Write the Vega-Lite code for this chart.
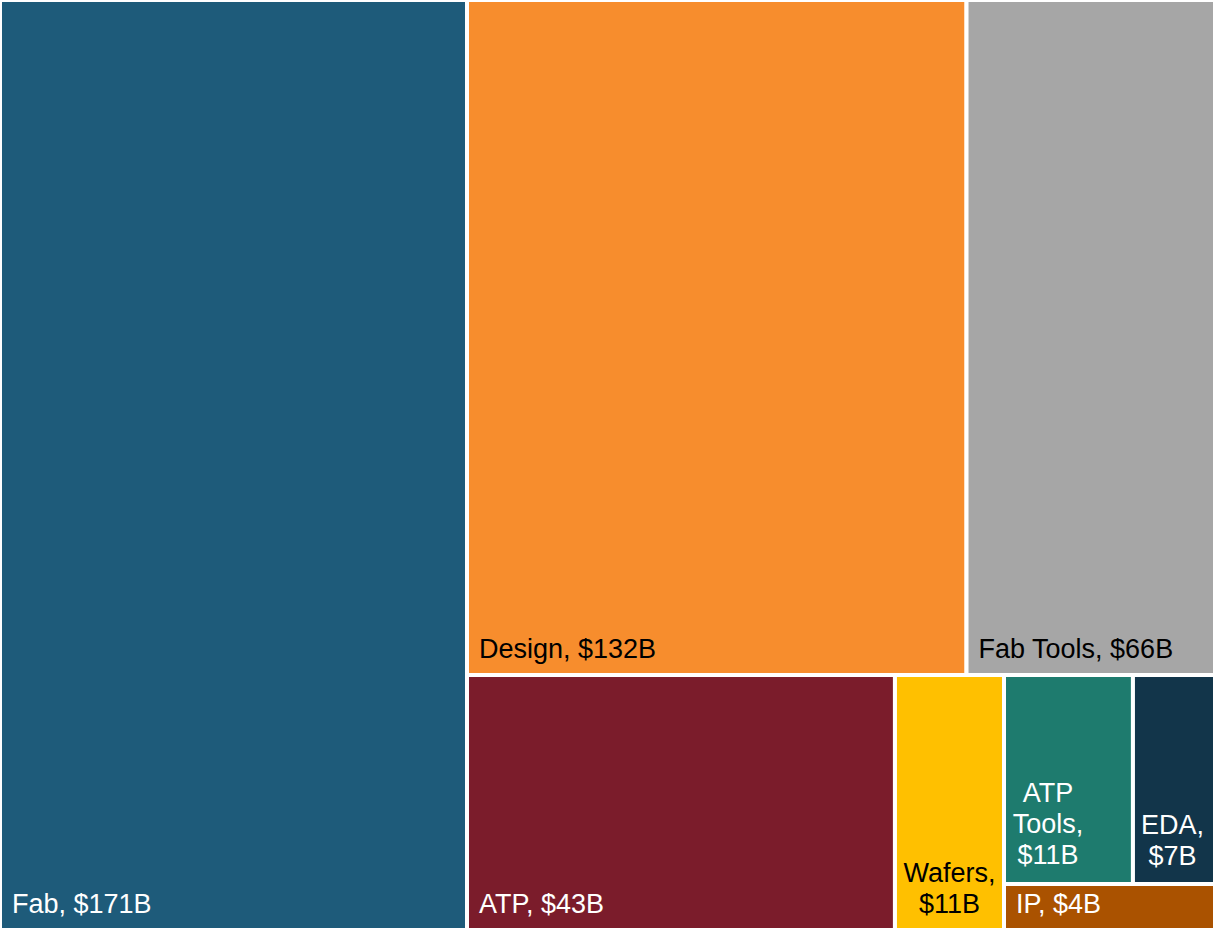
{
  "$schema": "https://vega.github.io/schema/vega-lite/v6.json",
  "width": 1213,
  "height": 928,
  "autosize": {"type": "none"},
  "padding": 0,
  "background": "white",
  "config": {"view": {"stroke": null}},
  "data": {
    "values": [
      {"name": "Fab", "value": 171, "label": "Fab, $171B", "x0": 0, "x1": 38.5, "y0": 0, "y1": 100.25},
      {"name": "Design", "value": 132, "label": "Design, $132B", "x0": 38.5, "x1": 79.68, "y0": 0, "y1": 72.74},
      {"name": "Fab Tools", "value": 66, "label": "Fab Tools, $66B", "x0": 79.68, "x1": 100.25, "y0": 0, "y1": 72.74},
      {"name": "ATP", "value": 43, "label": "ATP, $43B", "x0": 38.5, "x1": 73.78, "y0": 72.74, "y1": 100.25},
      {"name": "Wafers", "value": 11, "label": "Wafers,\n$11B", "x0": 73.78, "x1": 82.77, "y0": 72.74, "y1": 100.25},
      {"name": "ATP Tools", "value": 11, "label": "ATP\nTools,\n$11B", "x0": 82.77, "x1": 93.4, "y0": 72.74, "y1": 95.26},
      {"name": "EDA", "value": 7, "label": "EDA,\n$7B", "x0": 93.4, "x1": 100.25, "y0": 72.74, "y1": 95.26},
      {"name": "IP", "value": 4, "label": "IP, $4B", "x0": 82.77, "x1": 100.25, "y0": 95.26, "y1": 100.25}
    ]
  },
  "layer": [
    {
      "mark": {"type": "rect", "stroke": "white", "strokeWidth": 4, "clip": true},
      "encoding": {
        "x": {"field": "x0", "type": "quantitative", "scale": {"domain": [0, 100], "nice": false, "zero": false}, "axis": null},
        "x2": {"field": "x1"},
        "y": {"field": "y0", "type": "quantitative", "scale": {"domain": [0, 100], "nice": false, "zero": false, "reverse": true}, "axis": null},
        "y2": {"field": "y1"},
        "color": {
          "field": "name", "type": "nominal", "legend": null,
          "scale": {
            "domain": ["Fab", "Design", "Fab Tools", "ATP", "Wafers", "ATP Tools", "EDA", "IP"],
            "range": ["#1E5B7A", "#F78D2D", "#A6A6A6", "#7B1C2B", "#FFC000", "#1E7B6E", "#12354A", "#AA5200"]
          }
        }
      }
    },
    {
      "transform": [{"filter": "indexof(['Fab','Design','Fab Tools','ATP','IP'], datum.name) >= 0"}],
      "mark": {"type": "text", "align": "left", "baseline": "alphabetic", "dx": 12, "dy": -17, "font": "Liberation Sans", "fontSize": 27},
      "encoding": {
        "x": {"field": "x0", "type": "quantitative"},
        "y": {"field": "y1", "type": "quantitative"},
        "text": {"field": "label"},
        "color": {"condition": {"test": "indexof(['Design','Fab Tools'], datum.name) >= 0", "value": "black"}, "value": "white"}
      }
    },
    {
      "transform": [{"filter": "datum.name == 'Wafers'"}, {"calculate": "(datum.x0 + datum.x1) / 2", "as": "xc"}],
      "mark": {"type": "text", "align": "center", "baseline": "alphabetic", "lineBreak": "\n", "lineHeight": 31, "dy": -48, "font": "Liberation Sans", "fontSize": 27, "color": "black"},
      "encoding": {
        "x": {"field": "xc", "type": "quantitative"},
        "y": {"field": "y1", "type": "quantitative"},
        "text": {"field": "label"}
      }
    },
    {
      "transform": [{"filter": "datum.name == 'EDA'"}, {"calculate": "(datum.x0 + datum.x1) / 2", "as": "xc"}],
      "mark": {"type": "text", "align": "center", "baseline": "alphabetic", "lineBreak": "\n", "lineHeight": 31, "dx": -2, "dy": -50, "font": "Liberation Sans", "fontSize": 27, "color": "white"},
      "encoding": {
        "x": {"field": "xc", "type": "quantitative"},
        "y": {"field": "y1", "type": "quantitative"},
        "text": {"field": "label"}
      }
    },
    {
      "transform": [{"filter": "datum.name == 'ATP Tools'"}],
      "mark": {"type": "text", "align": "center", "baseline": "alphabetic", "lineBreak": "\n", "lineHeight": 31, "dx": 44, "dy": -82, "font": "Liberation Sans", "fontSize": 27, "color": "white"},
      "encoding": {
        "x": {"field": "x0", "type": "quantitative"},
        "y": {"field": "y1", "type": "quantitative"},
        "text": {"field": "label"}
      }
    }
  ]
}
